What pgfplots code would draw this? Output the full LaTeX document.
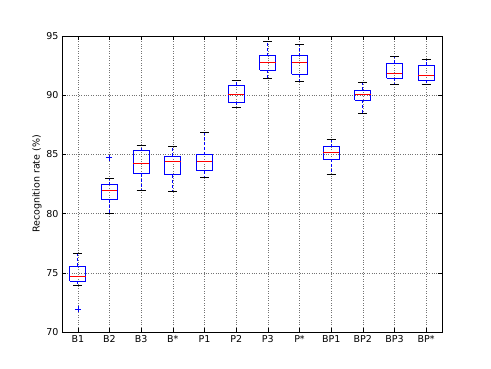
\documentclass[border=0pt]{standalone}
\usepackage{fontspec}
\setmainfont{DejaVu Sans}
\usepackage{pgfplots}
\pgfplotsset{compat=1.18}

\begin{document}
\begin{tikzpicture}
\path (-62pt,-36pt) rectangle (429pt,332pt);
\begin{axis}[
    at={(0,0)}, anchor=south west,
    scale only axis,
    width=380pt, height=296pt,
    xmin=0.5, xmax=12.5,
    ymin=70, ymax=95,
    xtick={1,...,12},
    xticklabels={B1,B2,B3,B*,P1,P2,P3,P*,BP1,BP2,BP3,BP*},
    ytick={70,75,...,95},
    ylabel={Recognition rate (\%)},
    grid=major,
    grid style={dotted, black!55, line width=0.5pt},
    axis line style={black, line width=0.8pt},
    tick align=inside,
    major tick length=4pt,
    tick style={black, line width=0.5pt},
    tick label style={font=\fontsize{9.5}{11}\selectfont},
    label style={font=\fontsize{9.5}{11}\selectfont},
    /pgf/number format/assume math mode=true,
    ylabel style={yshift=-2pt},
    unbounded coords=jump,
]
% whiskers: quartile -> whisker end
\addplot[blue, mark=none, line width=0.8pt, dash pattern=on 3pt off 2pt] coordinates {
 (1,75.57)(1,76.60) (1,nan) (1,74.30)(1,73.90) (1,nan)
 (2,82.43)(2,82.97) (2,nan) (2,81.19)(2,80.03) (2,nan)
 (3,85.31)(3,85.76) (3,nan) (3,83.36)(3,81.95) (3,nan)
 (4,84.86)(4,85.65) (4,nan) (4,83.28)(4,81.84) (4,nan)
 (5,84.97)(5,86.86) (5,nan) (5,83.64)(5,83.08) (5,nan)
 (6,90.82)(6,91.25) (6,nan) (6,89.41)(6,88.96) (6,nan)
 (7,93.33)(7,94.58) (7,nan) (7,92.12)(7,91.41) (7,nan)
 (8,93.33)(8,94.32) (8,nan) (8,91.78)(8,91.16) (8,nan)
 (9,85.65)(9,86.27) (9,nan) (9,84.58)(9,83.34) (9,nan)
 (10,90.42)(10,91.04) (10,nan) (10,89.58)(10,88.47) (10,nan)
 (11,92.68)(11,93.25) (11,nan) (11,91.44)(11,90.93) (11,nan)
 (12,92.52)(12,92.99) (12,nan) (12,91.27)(12,90.93)
};
% caps
\addplot[black, mark=none, line width=0.8pt] coordinates {
 (0.86,76.60)(1.14,76.60) (1,nan) (0.86,73.90)(1.14,73.90) (1,nan)
 (1.86,82.97)(2.14,82.97) (2,nan) (1.86,80.03)(2.14,80.03) (2,nan)
 (2.86,85.76)(3.14,85.76) (3,nan) (2.86,81.95)(3.14,81.95) (3,nan)
 (3.86,85.65)(4.14,85.65) (4,nan) (3.86,81.84)(4.14,81.84) (4,nan)
 (4.86,86.86)(5.14,86.86) (5,nan) (4.86,83.08)(5.14,83.08) (5,nan)
 (5.86,91.25)(6.14,91.25) (6,nan) (5.86,88.96)(6.14,88.96) (6,nan)
 (6.86,94.58)(7.14,94.58) (7,nan) (6.86,91.41)(7.14,91.41) (7,nan)
 (7.86,94.32)(8.14,94.32) (8,nan) (7.86,91.16)(8.14,91.16) (8,nan)
 (8.86,86.27)(9.14,86.27) (9,nan) (8.86,83.34)(9.14,83.34) (9,nan)
 (9.86,91.04)(10.14,91.04) (10,nan) (9.86,88.47)(10.14,88.47) (10,nan)
 (10.86,93.25)(11.14,93.25) (11,nan) (10.86,90.93)(11.14,90.93) (11,nan)
 (11.86,92.99)(12.14,92.99) (12,nan) (11.86,90.93)(12.14,90.93)
};
% boxes: lower quartile to upper quartile
\addplot[blue, mark=none, line width=1pt] coordinates {
 (0.75,74.30)(1.25,74.30)(1.25,75.57)(0.75,75.57)(0.75,74.30) (1,nan)
 (1.75,81.19)(2.25,81.19)(2.25,82.43)(1.75,82.43)(1.75,81.19) (2,nan)
 (2.75,83.36)(3.25,83.36)(3.25,85.31)(2.75,85.31)(2.75,83.36) (3,nan)
 (3.75,83.28)(4.25,83.28)(4.25,84.86)(3.75,84.86)(3.75,83.28) (4,nan)
 (4.75,83.64)(5.25,83.64)(5.25,84.97)(4.75,84.97)(4.75,83.64) (5,nan)
 (5.75,89.41)(6.25,89.41)(6.25,90.82)(5.75,90.82)(5.75,89.41) (6,nan)
 (6.75,92.12)(7.25,92.12)(7.25,93.33)(6.75,93.33)(6.75,92.12) (7,nan)
 (7.75,91.78)(8.25,91.78)(8.25,93.33)(7.75,93.33)(7.75,91.78) (8,nan)
 (8.75,84.58)(9.25,84.58)(9.25,85.65)(8.75,85.65)(8.75,84.58) (9,nan)
 (9.75,89.58)(10.25,89.58)(10.25,90.42)(9.75,90.42)(9.75,89.58) (10,nan)
 (10.75,91.44)(11.25,91.44)(11.25,92.68)(10.75,92.68)(10.75,91.44) (11,nan)
 (11.75,91.27)(12.25,91.27)(12.25,92.52)(11.75,92.52)(11.75,91.27)
};
% medians
\addplot[red, mark=none, line width=0.8pt] coordinates {
 (0.75,74.66)(1.25,74.66) (1,nan)
 (1.75,82.00)(2.25,82.00) (2,nan)
 (2.75,84.24)(3.25,84.24) (3,nan)
 (3.75,84.44)(4.25,84.44) (4,nan)
 (4.75,84.44)(5.25,84.44) (5,nan)
 (5.75,90.08)(6.25,90.08) (6,nan)
 (6.75,92.74)(7.25,92.74) (7,nan)
 (7.75,92.74)(8.25,92.74) (8,nan)
 (8.75,85.14)(9.25,85.14) (9,nan)
 (9.75,90.06)(10.25,90.06) (10,nan)
 (10.75,91.84)(11.25,91.84) (11,nan)
 (11.75,91.64)(12.25,91.64)
};
% outliers
\addplot[blue, only marks, mark=+, mark size=3pt, line width=0.5pt] coordinates {
 (1,71.95) (2,84.72)
};
\end{axis}
\end{tikzpicture}
\end{document}
